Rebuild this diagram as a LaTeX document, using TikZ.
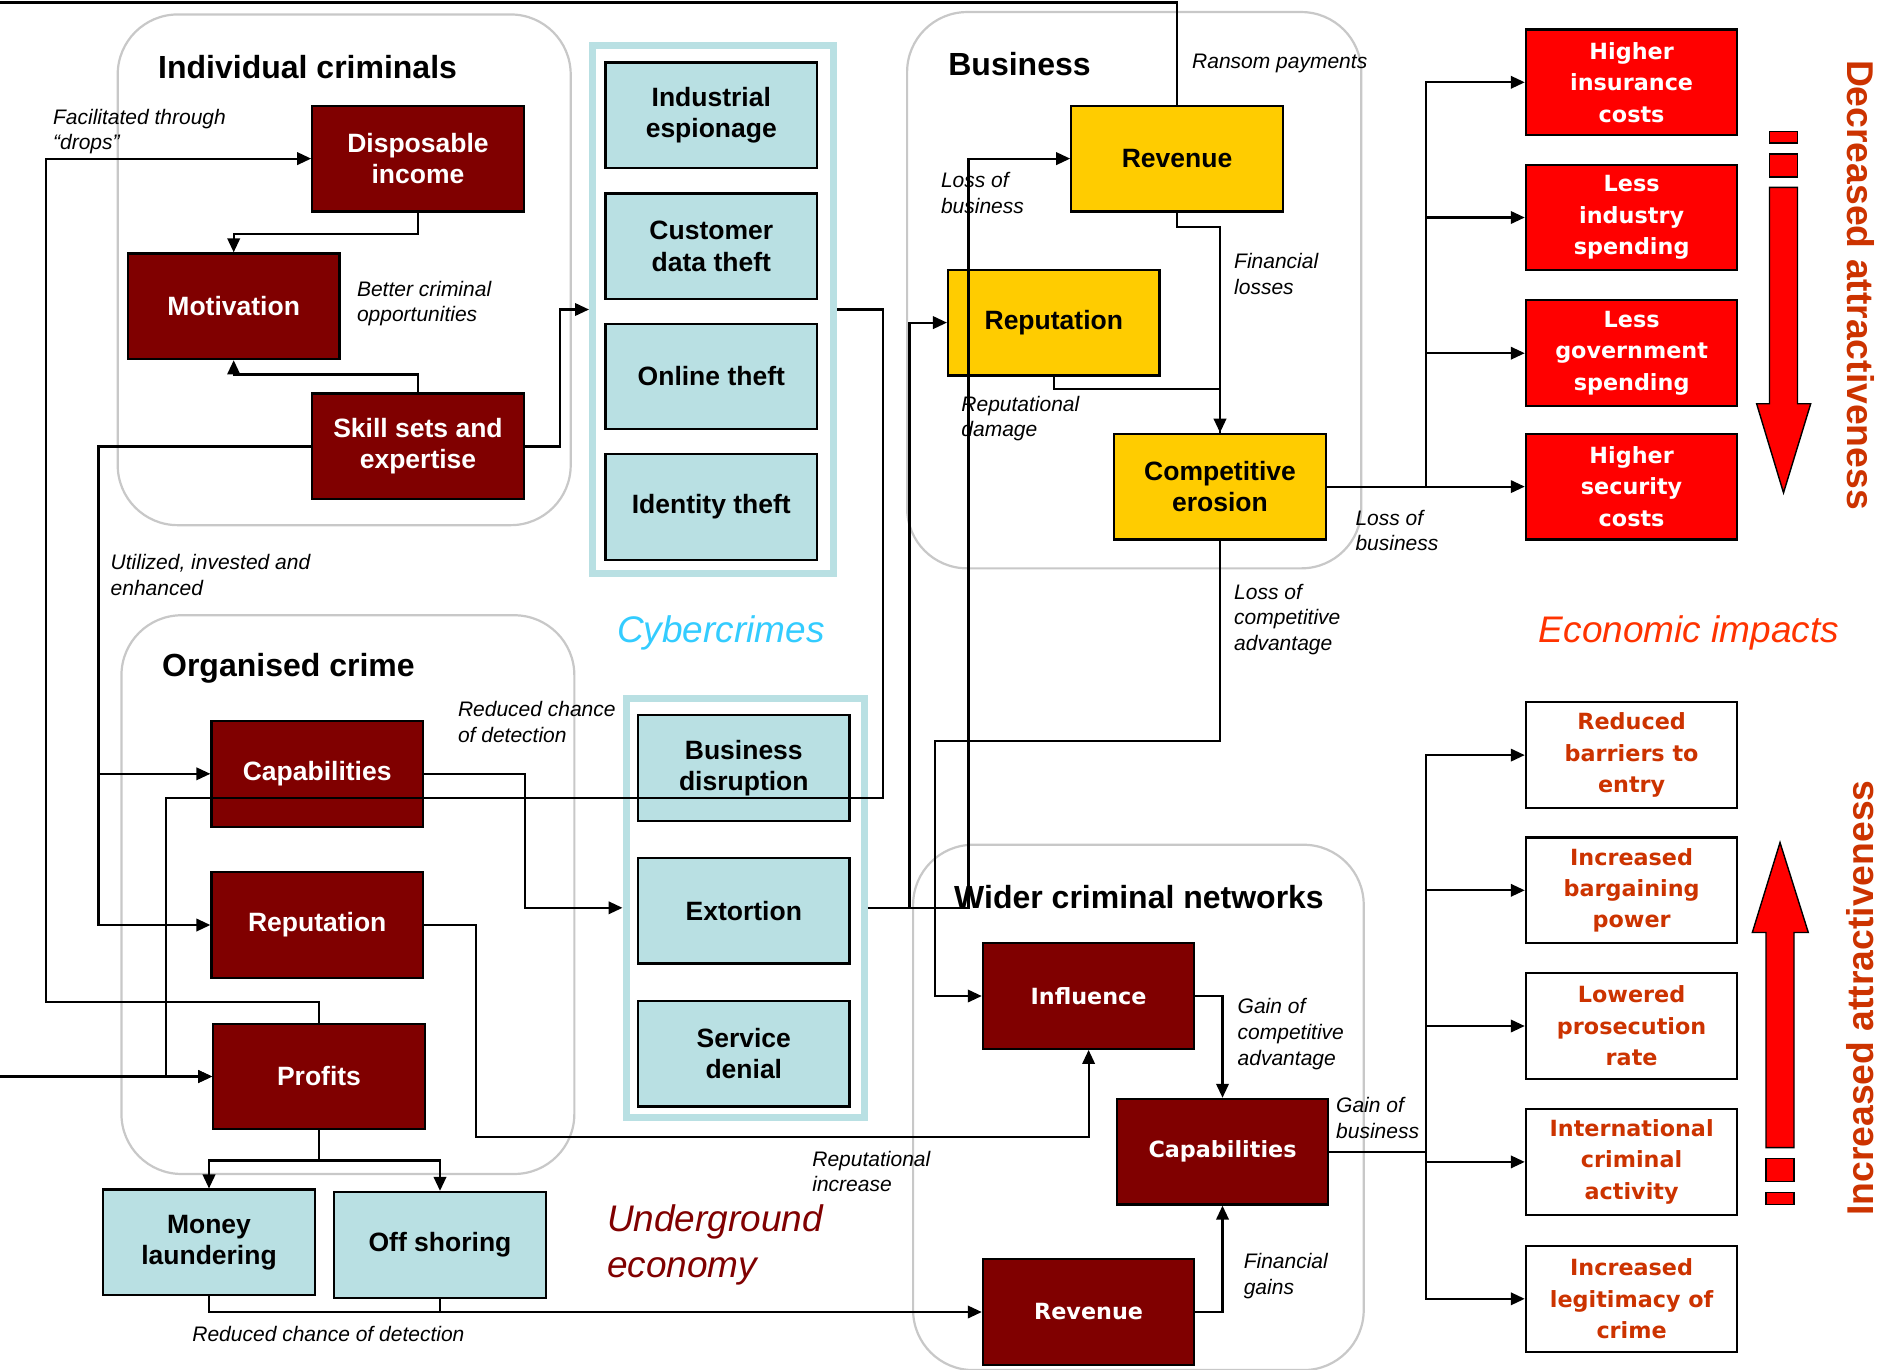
\documentclass[tikz,border=0pt]{standalone}
\usepackage{fontspec}
\setmainfont{Liberation Sans}
\newfontfamily\widefont{DejaVu Sans}
\usetikzlibrary{arrows.meta}

\definecolor{crimered}{RGB}{128,0,0}
\definecolor{cyberfill}{RGB}{185,224,227}
\definecolor{bizyellow}{RGB}{255,204,0}
\definecolor{impactred}{RGB}{255,0,0}
\definecolor{gaintext}{RGB}{204,51,0}
\definecolor{groupgray}{RGB}{200,200,200}
\definecolor{cyberblue}{RGB}{51,204,255}
\definecolor{econred}{RGB}{255,51,0}

\tikzset{
  conn/.style={draw=black, line width=2.2pt, -{Triangle[length=14pt,width=12.5pt]}},
  link/.style={draw=black, line width=2.2pt},
  cell/.style={draw=black, line width=2.2pt, minimum width=211.5pt, minimum height=105.7pt,
    inner sep=0pt, align=center},
  crime/.style={cell, fill=crimered, text=white, font=\fontsize{26.5}{31.2}\selectfont\bfseries},
  cyber/.style={cell, fill=cyberfill, text=black, font=\fontsize{26.5}{31.2}\selectfont\bfseries},
  biz/.style={cell, fill=bizyellow, text=black, font=\fontsize{26.5}{31.2}\selectfont\bfseries},
  wider/.style={cell, fill=crimered, text=white, font=\widefont\bfseries\fontsize{22.3}{28}\selectfont},
  impact/.style={cell, fill=impactred, text=white, font=\widefont\bfseries\fontsize{22.3}{31.6}\selectfont},
  gainbox/.style={cell, fill=white, text=gaintext, font=\widefont\bfseries\fontsize{22.3}{31.4}\selectfont},
  group/.style={draw=groupgray, line width=2.2pt, rounded corners=60pt, inner sep=0pt},
  cyberframe/.style={draw=cyberfill, line width=7pt, inner sep=0pt},
  grouptitle/.style={inner sep=0pt, font=\fontsize{32}{38}\selectfont\bfseries},
  lab/.style={anchor=west, align=left, inner sep=0pt, font=\fontsize{21}{25.6}\selectfont\itshape},
  bigital/.style={inner sep=0pt, font=\fontsize{37}{45.6}\selectfont\itshape},
  sidetext/.style={inner sep=0pt, text=gaintext, font=\fontsize{37.3}{40}\selectfont\bfseries},
  bigarrow/.style={fill=impactred, draw=black, line width=1.4pt},
}

\begin{document}
\begin{tikzpicture}[x=1pt,y=-1pt]
\useasboundingbox (0,0) rectangle (1884,1369);
\clip (0,0) rectangle (1884,1369);
\fill[white] (0,0) rectangle (1884,1369);

% ---- rounded group outlines ----
\node[group, minimum width=453pt, minimum height=510.7pt] (gind) at (344.2,269.8) {};
\node[group, minimum width=452.9pt, minimum height=558.7pt] (gorg) at (347.9,894.6) {};
\node[group, minimum width=454.2pt, minimum height=556.3pt] (gbiz) at (1134.2,290.2) {};
\node[group, minimum width=450.6pt, minimum height=525.3pt] (gwid) at (1138.4,1107.4) {};

% ---- cybercrime frames ----
\node[cyberframe, minimum width=241pt, minimum height=528pt] (cy1) at (713,309.5) {};
\node[cyberframe, minimum width=238pt, minimum height=419.5pt] (cy2) at (745,907.8) {};

% ---- group titles ----
\node[grouptitle] (tind) at (307.6,67.3) {Individual criminals};
\node[grouptitle] (tbiz) at (1019.5,63.7) {Business};
\node[grouptitle] (torg) at (288.4,668) {Organised crime};
\node[grouptitle] (twid) at (1139,897.5) {Wider criminal networks};

% ---- individual criminals ----
\node[crime] (disp) at (418,158.6) {Disposable\\income};
\node[crime] (motiv) at (233.7,306.3) {Motivation};
\node[crime] (skill) at (418,446.4) {Skill sets and\\expertise};

% ---- cybercrimes ----
\node[cyber] (indesp) at (711.3,115.3) {Industrial\\espionage};
\node[cyber] (custdata) at (711.3,246.3) {Customer\\data theft};
\node[cyber] (online) at (711.3,376.5) {Online theft};
\node[cyber] (ident) at (711.3,507) {Identity theft};
\node[cyber] (disrupt) at (743.8,767.8) {Business\\disruption};
\node[cyber] (extort) at (743.8,910.7) {Extortion};
\node[cyber] (denial) at (743.8,1053.7) {Service\\denial};

% ---- organised crime ----
\node[crime] (ocap) at (317.2,773.8) {Capabilities};
\node[crime] (orep) at (317.2,925) {Reputation};
\node[crime] (oprof) at (319,1076.5) {Profits};
\node[cyber] (launder) at (209,1242.4) {Money\\laundering};
\node[cyber] (offshore) at (440,1244.8) {Off shoring};

% ---- business ----
\node[biz] (brev) at (1177,158.6) {Revenue};
\node[biz] (brep) at (1053.8,322.6) {Reputation};
\node[biz] (berode) at (1220,486.6) {Competitive\\erosion};

% ---- wider criminal networks ----
\node[wider] (winfl) at (1088.6,996) {Influence};
\node[wider] (wcap) at (1222.5,1151.7) {Capabilities};
\node[wider] (wrev) at (1088.6,1312) {Revenue};

% ---- economic impacts ----
\node[impact] (ins) at (1631.6,82.3) {Higher\\insurance\\costs};
\node[impact] (indsp) at (1631.6,217.5) {Less\\industry\\spending};
\node[impact] (govsp) at (1631.6,353.2) {Less\\government\\spending};
\node[impact] (secur) at (1631.6,486.6) {Higher\\security\\costs};

\node[gainbox] (barr) at (1631.6,755.1) {Reduced\\barriers to\\entry};
\node[gainbox] (barg) at (1631.6,890.3) {Increased\\bargaining\\power};
\node[gainbox] (prosec) at (1631.6,1026) {Lowered\\prosecution\\rate};
\node[gainbox] (intl) at (1631.6,1161.9) {International\\criminal\\activity};
\node[gainbox] (legit) at (1631.6,1298.8) {Increased\\legitimacy of\\crime};

% ---- branch points ----
\coordinate (farleft) at (-20,2.4);
\coordinate (skillbus) at (98.5,773.8);
\coordinate (lossjoin) at (909.5,907.8);
\coordinate (lossbus) at (1426.2,486.6);
\coordinate (gainbus) at (1426.2,1151.7);

% ---- connectors ----
\draw[conn] (brev.north) |- (farleft) |- (oprof.west);
\draw[conn] (cy1.east) -| (883.1,797.8) -| (165.8,1076.5) -- (oprof.west);
\draw[conn] (oprof.north) |- (45.7,1002.1) |- (disp.west);
\draw[conn] (disp.south) -- ++(0,21.6) -| (motiv.north);
\draw[conn] (skill.north) -- ++(0,-18) -| (motiv.south);
\draw[conn] (skill.east) -- ++(34.8,0) |- (cy1.west);
\draw[conn] (skill.west) -| (98.5,925) -- (orep.west);
\draw[conn] (skillbus) -- (ocap.west);
\draw[conn] (ocap.east) -- ++(100.9,0) |- (cy2.west);
\draw[conn] (orep.east) -- ++(51.7,0) |- (1088.6,1136.6) -- (winfl.south);
\draw[conn] (oprof.south) -- ++(0,30) -| (launder.north);
\draw[conn] (oprof.south) -- ++(0,30) -| (offshore.north);
\draw[conn] (launder.south) |- (wrev.west);
\draw[link] (offshore.south) -- ++(0,14.4);
\draw[conn] (cy2.east) -- (968.4,907.8) |- (brev.west);
\draw[conn] (lossjoin) |- (brep.west);
\draw[conn] (brev.south) -- ++(0,14.4) -| (berode.north);
\draw[link] (brep.south) -- ++(0,12.3) -| (berode.north);
\draw[conn] (berode.south) |- (934.8,741.3) |- (winfl.west);
\draw[conn] (winfl.east) -| (wcap.north);
\draw[conn] (wrev.east) -| (wcap.south);
\draw[link] (berode.east) -- (lossbus);
\foreach \t in {ins,indsp,govsp,secur} \draw[conn] (lossbus) |- (\t.west);
\draw[link] (wcap.east) -- (gainbus);
\foreach \t in {barr,barg,prosec,intl,legit} \draw[conn] (gainbus) |- (\t.west);

% ---- connector labels ----
\node[lab] (lfac) at (52.9,131.5) {Facilitated through\\“drops”};
\node[lab] (lbet) at (356.8,303.4) {Better criminal\\opportunities};
\node[lab] (lutil) at (110.5,575) {Utilized, invested and\\enhanced};
\node[lab] (lred1) at (457.8,722.1) {Reduced chance\\of detection};
\node[lab] (lrepi) at (812.2,1171.5) {Reputational\\increase};
\node[lab] (lred2) at (192.2,1333.7) {Reduced chance of detection};
\node[lab] (lran) at (1192,63.7) {Ransom payments};
\node[lab] (lloss1) at (940.8,192.9) {Loss of\\business};
\node[lab] (lfin) at (1234,274) {Financial\\losses};
\node[lab] (lrepd) at (961.2,418.7) {Reputational\\damage};
\node[lab] (lcomp) at (1234,619.2) {Loss of\\competitive\\advantage};
\node[lab] (lloss2) at (1355.3,530.5) {Loss of\\business};
\node[lab] (lgainc) at (1237.5,1034) {Gain of\\competitive\\advantage};
\node[lab] (lgainb) at (1336,1118) {Gain of\\business};
\node[lab] (lfing) at (1243.6,1276) {Financial\\gains};

% ---- area captions ----
\node[bigital, text=cyberblue] (capcyber) at (721,633) {Cybercrimes};
\node[bigital, text=crimered, anchor=west, align=left] (capunder) at (606.8,1244.8) {Underground\\economy};
\node[bigital, text=econred] (capecon) at (1689,633) {Economic impacts};

% ---- trend arrows ----
\draw[bigarrow] (1769.5,131.7) rectangle (1797.5,142.8);
\draw[bigarrow] (1769.5,154) rectangle (1797.5,177);
\draw[bigarrow] (1769.5,187.4) -- (1797.5,187.4) -- (1797.5,403.7) -- (1810.7,403.7)
  -- (1783.5,492.8) -- (1756.6,403.7) -- (1769.5,403.7) -- cycle;
\draw[bigarrow] (1766,1192.4) rectangle (1794,1204.7);
\draw[bigarrow] (1766,1158.6) rectangle (1794,1181.4);
\draw[bigarrow] (1766,1147.6) -- (1794,1147.6) -- (1794,932.5) -- (1808.3,932.5)
  -- (1780,842.5) -- (1752.3,932.5) -- (1766,932.5) -- cycle;

\node[sidetext, rotate=-90] (decr) at (1861,285) {Decreased attractiveness};
\node[sidetext, rotate=90] (incr) at (1860,998) {Increased attractiveness};
\end{tikzpicture}
\end{document}
